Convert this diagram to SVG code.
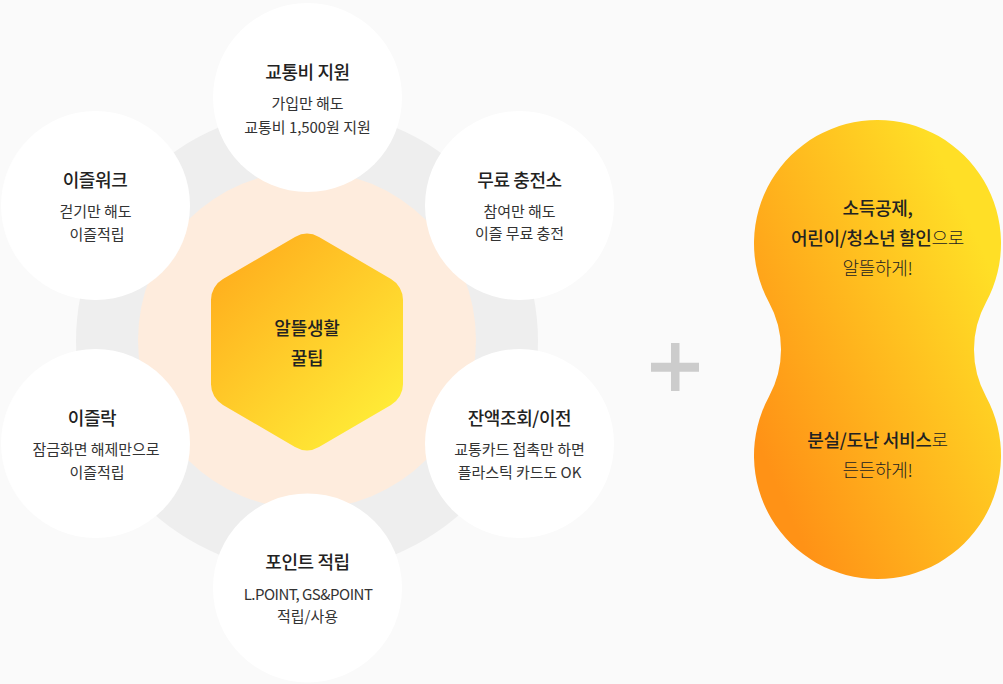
<svg xmlns="http://www.w3.org/2000/svg" width="1003" height="684" viewBox="0 0 1003 684">
<style>
text{font-family:"Noto Sans CJK KR","Noto Sans",sans-serif;text-anchor:middle;fill:#222}
.t{font-size:18px;font-weight:500;letter-spacing:-.4px}
.b{font-size:15px;letter-spacing:-.05px;fill:#333}
.n{letter-spacing:-.5px}
.h{font-size:18px;font-weight:500;letter-spacing:-.2px}
.m{font-size:18px;font-weight:500;letter-spacing:-.3px}
.l{font-weight:300}
.c{fill:#fff}
</style>
<defs>
<linearGradient id="hex" gradientUnits="userSpaceOnUse" x1="230" y1="265" x2="385" y2="420"><stop offset="0" stop-color="#ffb01e"/><stop offset="1" stop-color="#ffec37"/></linearGradient>
<linearGradient id="blob" gradientUnits="userSpaceOnUse" x1="745" y1="415" x2="1005" y2="300"><stop offset="0" stop-color="#ff9216"/><stop offset="1" stop-color="#ffdf26"/></linearGradient>
</defs>
<rect width="1003" height="684" fill="#fafafa"/>
<g id="connectors">
<circle cx="307" cy="341" r="231" fill="#eee"/>
<circle cx="307" cy="340" r="169" fill="#feecdd"/>
</g>
<g id="center">
<path d="M295 237A24 24 0 0 1 319 237L391 279A24 24 0 0 1 403 300V384A24 24 0 0 1 391 405L319 447A24 24 0 0 1 295 447L223 405A24 24 0 0 1 211 384V300A24 24 0 0 1 223 279Z" fill="url(#hex)"/>
<text class="h" x="307" y="335">알뜰생활</text>
<text class="h" x="307" y="365">꿀팁</text>
</g>
<g id="node-top"><circle class="c" cx="307.5" cy="97.5" r="94.5"/>
<text class="t" x="307.5" y="79">교통비 지원</text><text class="b" x="307.5" y="109">가입만 해도</text><text class="b" x="307.5" y="133">교통비 1,500원 지원</text></g>
<g id="node-upper-right"><circle class="c" cx="519.5" cy="205.5" r="94.5"/>
<text class="t" x="519.5" y="187">무료 충전소</text><text class="b" x="519.5" y="217">참여만 해도</text><text class="b" x="519.5" y="239">이즐 무료 충전</text></g>
<g id="node-lower-right"><circle class="c" cx="519.5" cy="443.5" r="94.5"/>
<text class="t" x="519.5" y="425">잔액조회/이전</text><text class="b" x="519.5" y="455">교통카드 접촉만 하면</text><text class="b" x="519.5" y="478">플라스틱 카드도 OK</text></g>
<g id="node-bottom"><circle class="c" cx="307.5" cy="588" r="94.5"/>
<text class="t" x="307.5" y="569">포인트 적립</text><text class="b n" x="308" y="600">L.POINT, GS&amp;POINT</text><text class="b" x="307.5" y="622">적립/사용</text></g>
<g id="node-lower-left"><circle class="c" cx="95.5" cy="443.5" r="94.5"/>
<text class="t" x="92" y="425">이즐락</text><text class="b" x="96" y="455">잠금화면 해제만으로</text><text class="b" x="97" y="478">이즐적립</text></g>
<g id="node-upper-left"><circle class="c" cx="95.5" cy="205.5" r="94.5"/>
<text class="t" x="95" y="187">이즐워크</text><text class="b" x="95.5" y="217">걷기만 해도</text><text class="b" x="97" y="240">이즐적립</text></g>
<g id="plus"><path d="M671 343H679.5V362.7H699V371.7H679.5V391H671V371.7H651V362.7H671Z" fill="#ccc"/></g>
<g id="blob-node">
<path d="M768.9 302.3A123.5 123.5 0 1 1 986.1 302.3A98 98 0 0 0 986.1 396.7A123.5 123.5 0 1 1 768.9 396.7A98 98 0 0 0 768.9 302.3Z" fill="url(#blob)"/>
<text class="m" x="877.5" y="215">소득공제,</text>
<text class="m" x="877.5" y="245">어린이/청소년 할인<tspan class="l">으로</tspan></text>
<text class="m l" x="877.5" y="275">알뜰하게!</text>
<text class="m" x="877.5" y="447">분실/도난 서비스<tspan class="l">로</tspan></text>
<text class="m l" x="877.5" y="477">든든하게!</text>
</g>
</svg>
